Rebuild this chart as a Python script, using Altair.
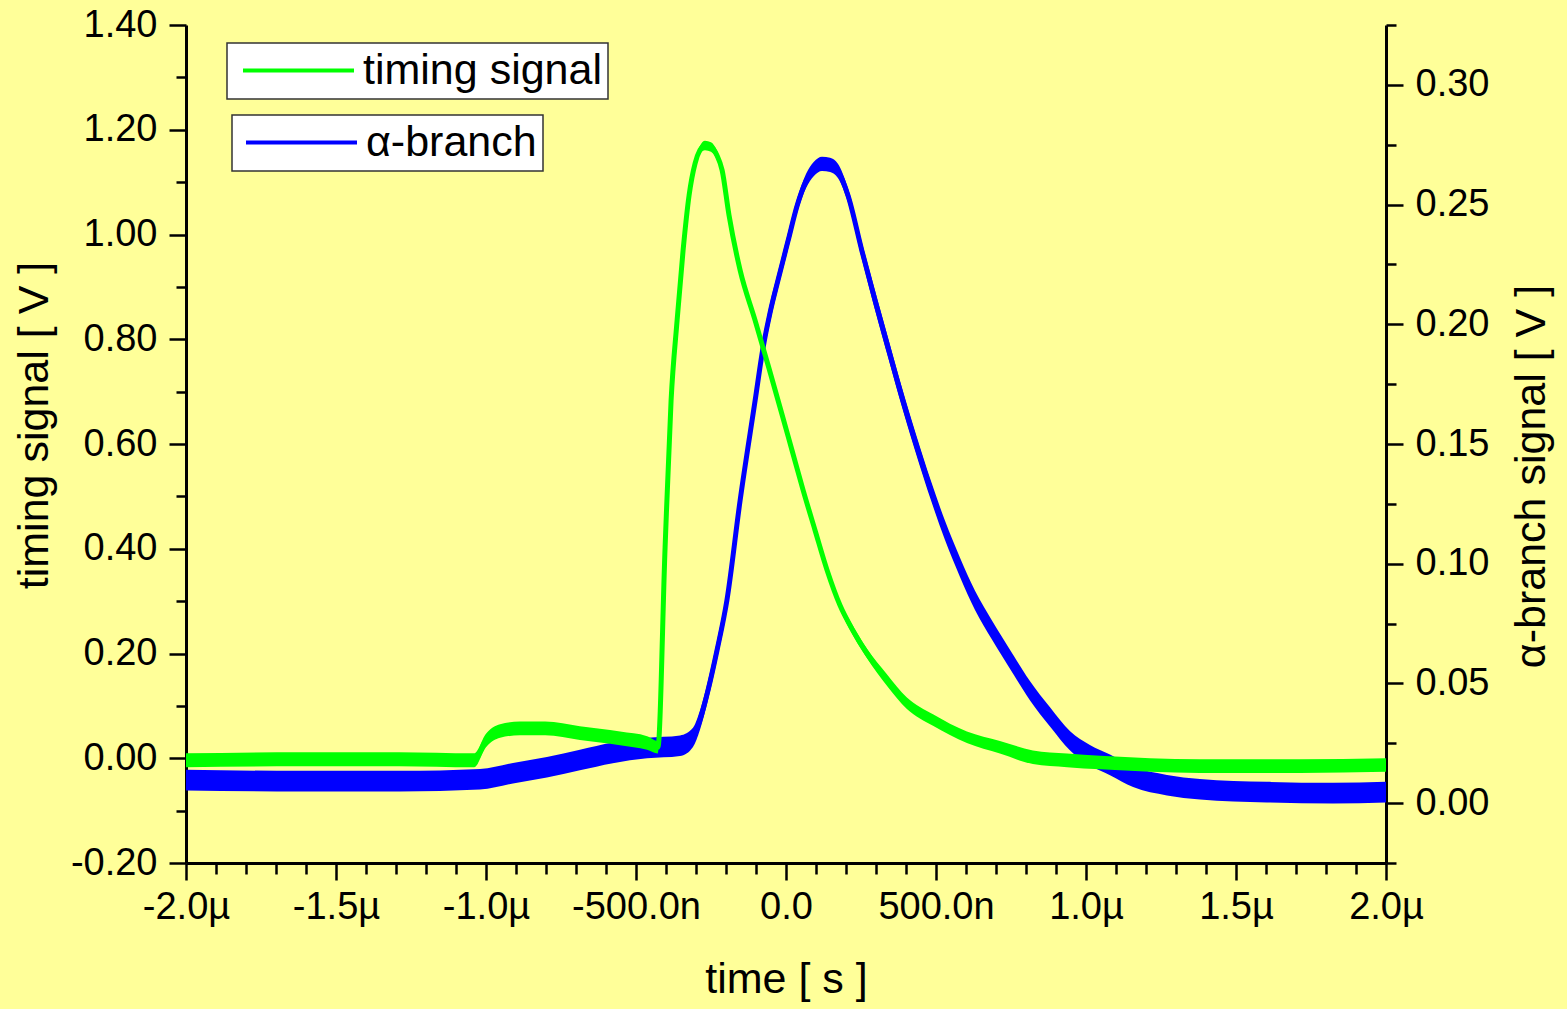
import altair as alt
import pandas as pd

# ---------------- data ----------------
# time in microseconds
green_t = [-2.0, -1.62, -1.29, -1.04, -1.0, -0.953, -0.887, -0.803, -0.687, -0.553,
           -0.463, -0.427, -0.403, -0.383, -0.363, -0.343, -0.323, -0.303, -0.287, -0.27,
           -0.25, -0.23, -0.213, -0.19, -0.153, -0.103, -0.057, -0.017, 0.02, 0.057,
           0.097, 0.137, 0.18, 0.223, 0.27, 0.337, 0.403, 0.49, 0.603, 0.713,
           0.823, 0.937, 1.047, 1.38, 1.713, 2.0]
# timing signal [V] (left axis)
green_v = [-0.004, -0.002, -0.002, -0.004, 0.034, 0.052, 0.057, 0.057, 0.048, 0.038,
           0.029, 0.021, 0.403, 0.684, 0.836, 0.970, 1.075, 1.136, 1.161, 1.170,
           1.167, 1.151, 1.123, 1.037, 0.932, 0.836, 0.745, 0.664, 0.588, 0.512,
           0.435, 0.359, 0.292, 0.244, 0.2, 0.149, 0.105, 0.073, 0.04, 0.021,
           0.002, -0.004, -0.008, -0.015, -0.015, -0.013]
# half-width of the noise band [V]
green_hw = [0.0134, 0.0134, 0.0134, 0.0134, 0.013, 0.013, 0.013, 0.013, 0.013, 0.013,
            0.013, 0.012, 0.004, 0.004, 0.004, 0.004, 0.004, 0.006, 0.008, 0.009,
            0.009, 0.009, 0.008, 0.006, 0.006, 0.006, 0.006, 0.006, 0.007, 0.008,
            0.008, 0.008, 0.008, 0.009, 0.009, 0.011, 0.011, 0.011, 0.011, 0.012,
            0.013, 0.013, 0.013, 0.013, 0.013, 0.013]

blue_t = [-2.0, -1.62, -1.287, -1.02, -0.91, -0.797, -0.687, -0.577, -0.463, -0.353,
          -0.31, -0.287, -0.26, -0.23, -0.197, -0.153, -0.103, -0.077, -0.053, -0.027,
          0.007, 0.037, 0.067, 0.093, 0.12, 0.147, 0.173, 0.207, 0.253, 0.297,
          0.343, 0.39, 0.437, 0.483, 0.53, 0.58, 0.63, 0.687, 0.747, 0.813,
          0.88, 0.947, 1.013, 1.08, 1.157, 1.27, 1.38, 1.603, 1.823, 2.0]
# alpha-branch signal [V] (right axis)
blue_v = [0.0096, 0.0092, 0.0092, 0.010, 0.0125, 0.015, 0.018, 0.021, 0.023, 0.024,
          0.0275, 0.0346, 0.0471, 0.0638, 0.0847, 0.1264, 0.1681, 0.1898, 0.2049, 0.2182,
          0.2349, 0.2495, 0.2599, 0.2649, 0.267, 0.2666, 0.2641, 0.2537, 0.2307, 0.2099,
          0.189, 0.168, 0.1485, 0.1306, 0.1139, 0.0985, 0.0847, 0.0722, 0.060, 0.047,
          0.036, 0.026, 0.020, 0.016, 0.011, 0.0075, 0.0058, 0.0046, 0.0042, 0.0046]
blue_hw = [0.0043, 0.0043, 0.0043, 0.0043, 0.0043, 0.0043, 0.0043, 0.0043, 0.0043, 0.0043,
           0.004, 0.004, 0.004, 0.004, 0.004, 0.004, 0.004, 0.004, 0.004, 0.0035,
           0.0035, 0.003, 0.003, 0.003, 0.003, 0.003, 0.003, 0.003, 0.0035, 0.004,
           0.004, 0.004, 0.004, 0.004, 0.004, 0.004, 0.004, 0.004, 0.004, 0.004,
           0.004, 0.004, 0.0043, 0.0043, 0.0043, 0.0043, 0.0043, 0.0043, 0.0043, 0.0043]

series_names = ["timing signal", "α-branch"]
series_colors = ["#00ff00", "#0000ff"]

# axis ticks and labels
x_ticks = [round(-2.0 + 0.1 * i, 1) for i in range(41)]
x_major = [-2.0, -1.5, -1.0, -0.5, 0.0, 0.5, 1.0, 1.5, 2.0]
x_major_labels = ["-2.0µ", "-1.5µ", "-1.0µ", "-500.0n", "0.0", "500.0n", "1.0µ", "1.5µ", "2.0µ"]
yl_ticks = [round(-0.2 + 0.1 * i, 1) for i in range(17)]
yr_ticks = [round(-0.025 + 0.025 * i, 3) for i in range(15)]

# ---------------- tables ----------------
green_df = pd.DataFrame({"t": green_t, "v": green_v, "hw": green_hw})
green_df["lo"] = green_df["v"] - green_df["hw"]
green_df["hi"] = green_df["v"] + green_df["hw"]
green_df["series"] = series_names[0]

blue_df = pd.DataFrame({"t": blue_t, "v": blue_v, "hw": blue_hw})
blue_df["lo"] = blue_df["v"] - blue_df["hw"]
blue_df["hi"] = blue_df["v"] + blue_df["hw"]
blue_df["series"] = series_names[1]

FONT = "Liberation Sans"
MINUS = "\u2212"

x_label_expr = "''"
for v, lab in reversed(list(zip(x_major, x_major_labels))):
    x_label_expr = f"abs(datum.value - ({v})) < 1e-6 ? '{lab}' : {x_label_expr}"


def major_test(k):
    return f"abs(datum.value*{k} - round(datum.value*{k})) < 1e-6"


common_axis = dict(
    grid=False,
    domainColor="black",
    domainWidth=3,
    tickColor="black",
    tickWidth=2.5,
    labelFont=FONT,
    labelFontSize=38,
    labelColor="black",
    labelOverlap=False,
    labelFlush=False,
    titleFont=FONT,
    titleFontSize=43,
    titleFontWeight="normal",
    titleColor="black",
)

x_axis = alt.Axis(
    orient="bottom",
    values=x_ticks,
    labelExpr=x_label_expr,
    tickSize={"condition": {"test": major_test(2), "value": 17}, "value": 11},
    labelPadding=8,
    title="time [ s ]",
    titleX=600,
    titleY=129,
    titleAlign="center",
    titleBaseline="alphabetic",
    **common_axis,
)

left_axis = alt.Axis(
    orient="left",
    values=yl_ticks,
    labelExpr=f"{major_test(5)} ? replace(format(datum.value, '.2f'), '{MINUS}', '-') : ''",
    tickSize={"condition": {"test": major_test(5), "value": 17}, "value": 10},
    labelPadding=12,
    title="timing signal [ V ]",
    titleAngle=270,
    titleX=-139,
    titleY=400,
    titleAlign="center",
    titleBaseline="alphabetic",
    **common_axis,
)

right_axis = alt.Axis(
    orient="right",
    values=yr_ticks,
    labelExpr=f"{major_test(20)} ? replace(format(datum.value, '.2f'), '{MINUS}', '-') : ''",
    tickSize={"condition": {"test": major_test(20), "value": 17}, "value": 10},
    labelPadding=12,
    title="α-branch signal [ V ]",
    titleAngle=270,
    titleX=158,
    titleY=451,
    titleAlign="center",
    titleBaseline="alphabetic",
    **common_axis,
)

x_scale = alt.Scale(domain=[-2.0, 2.0], nice=False, zero=False)
yl_scale = alt.Scale(domain=[-0.2, 1.4], nice=False, zero=False)
yr_scale = alt.Scale(domain=[-0.025, 0.325], nice=False, zero=False)


def legend(x, y, sym_off):
    return alt.Legend(
        title=None,
        orient="none",
        legendX=x,
        legendY=y,
        fillColor="white",
        strokeColor="#333333",
        padding=6,
        symbolType="M-3,0L3,0",
        symbolSize=1369,
        symbolStrokeWidth=4,
        symbolOffset=sym_off,
        labelOffset=43,
        labelFont=FONT,
        labelFontSize=43,
        labelColor="black",
        labelLimit=600,
    )


green_area = alt.Chart(green_df).mark_area(
    color=series_colors[0], opacity=1, interpolate="monotone", clip=True
).encode(
    x=alt.X("t:Q", scale=x_scale, axis=x_axis),
    y=alt.Y("lo:Q", scale=yl_scale, axis=left_axis),
    y2="hi:Q",
)
green_line = alt.Chart(green_df).mark_line(
    strokeWidth=5, interpolate="monotone", clip=True
).encode(
    x=alt.X("t:Q", scale=x_scale, axis=x_axis),
    y=alt.Y("v:Q", scale=yl_scale, axis=left_axis),
    color=alt.Color(
        "series:N",
        scale=alt.Scale(domain=[series_names[0]], range=[series_colors[0]]),
        legend=legend(41, 18, 44),
    ),
)

blue_area = alt.Chart(blue_df).mark_area(
    color=series_colors[1], opacity=1, interpolate="monotone", clip=True
).encode(
    x=alt.X("t:Q", scale=x_scale, axis=x_axis),
    y=alt.Y("lo:Q", scale=yr_scale, axis=right_axis),
    y2="hi:Q",
)
blue_line = alt.Chart(blue_df).mark_line(
    strokeWidth=5, interpolate="monotone", clip=True
).encode(
    x=alt.X("t:Q", scale=x_scale, axis=x_axis),
    y=alt.Y("v:Q", scale=yr_scale, axis=right_axis),
    color=alt.Color(
        "series:N",
        scale=alt.Scale(domain=[series_names[1]], range=[series_colors[1]]),
        legend=legend(46, 90, 42),
    ),
)

blue_layer = alt.layer(blue_area, blue_line)
green_layer = alt.layer(green_area, green_line)

chart = (
    alt.layer(blue_layer, green_layer)
    .resolve_scale(y="independent", color="independent")
    .properties(
        width=1200,
        height=838,
        autosize=alt.AutoSizeParams(type="none"),
        padding={"left": 186, "top": 25, "right": 181, "bottom": 146},
        background="#ffff99",
    )
    .configure_view(strokeWidth=0)
    .configure_legend(strokeWidth=1.5)
)

chart.save("out.html", embed_options={"renderer": "svg", "actions": False})
